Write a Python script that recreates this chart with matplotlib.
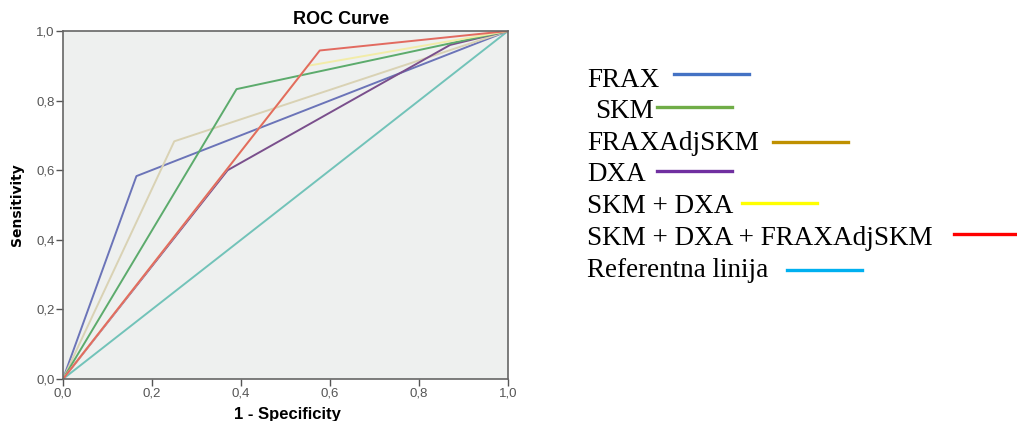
import matplotlib
matplotlib.use("Agg")
import matplotlib.pyplot as plt
from matplotlib.lines import Line2D

W, H = 1017, 421

# ---- data ----
series_names = ["FRAX", "SKM", "FRAXAdjSKM", "DXA", "SKM + DXA",
                "SKM + DXA + FRAXAdjSKM", "Referentna linija"]
frax_x = [0.0, 0.165, 1.0]
frax_y = [0.0, 0.583, 1.0]
skm_x = [0.0, 0.39, 1.0]
skm_y = [0.0, 0.833, 1.0]
fraxadj_x = [0.0, 0.25, 1.0]
fraxadj_y = [0.0, 0.683, 1.0]
dxa_x = [0.0, 0.37, 0.87, 1.0]
dxa_y = [0.0, 0.60, 0.96, 1.0]
skmdxa_x = [0.0, 0.55, 1.0]
skmdxa_y = [0.0, 0.90, 1.0]
all_x = [0.0, 0.577, 1.0]
all_y = [0.0, 0.944, 1.0]
ref_x = [0.0, 1.0]
ref_y = [0.0, 1.0]
ticks = [0.0, 0.2, 0.4, 0.6, 0.8, 1.0]
tick_labels = ["0,0", "0,2", "0,4", "0,6", "0,8", "1,0"]

plot_colors = ["#6b74b8", "#5cab6c", "#d9d2b4", "#7a4f8c", "#f2eca8", "#e26a60", "#72c3b9"]
legend_colors = ["#4472c4", "#70ad47", "#bf9000", "#7030a0", "#ffff00", "#ff0000", "#00b0f0"]

fig = plt.figure(figsize=(W / 100, H / 100), dpi=100)
fig.patch.set_facecolor("white")
ax = fig.add_axes([63 / W, (H - 379) / H, 445 / W, 348 / H])
ax.set_facecolor("#eef0ef")

data = [(ref_x, ref_y, 6), (frax_x, frax_y, 0), (fraxadj_x, fraxadj_y, 2),
        (dxa_x, dxa_y, 3), (skm_x, skm_y, 1), (skmdxa_x, skmdxa_y, 4),
        (all_x, all_y, 5)]
for xs, ys, ci in data:
    ax.plot(xs, ys, color=plot_colors[ci], lw=1.4, solid_capstyle="round")

ax.set_xlim(0, 1)
ax.set_ylim(0, 1)
ax.set_xticks(ticks)
ax.set_yticks(ticks)
ax.set_xticklabels(tick_labels, fontsize=9.5, color="#555555", family="Liberation Sans")
ax.set_yticklabels(tick_labels, fontsize=9.5, color="#555555", family="Liberation Sans")
ax.tick_params(direction="out", length=5, width=1.0, color="#555555", pad=1)
for s in ax.spines.values():
    s.set_color("#666666")
    s.set_linewidth(1.2)

fig.text(287 / W, 1 - 414 / H, "1 - Specificity", fontsize=12, fontweight="bold",
         family="Liberation Sans", ha="center", va="center")
fig.text(17 / W, 1 - 205 / H, "Sensitivity", fontsize=10, fontweight="bold",
         family="Liberation Sans Narrow", rotation=90, ha="center", va="center")
fig.text(341 / W, 1 - 20 / H, "ROC Curve", fontsize=13, fontweight="bold",
         family="Liberation Sans", ha="center", va="center")

# ---- legend (text + coloured keys) ----
text_x = [587, 595, 587, 587, 587, 587, 587]
base_y = [87, 118, 150, 181, 213, 245, 277]
row_y = [74, 107, 142, 171, 203, 234, 270]
key_x = [(674, 749), (657, 732), (773, 848), (657, 732), (742, 817), (954, 1017), (787, 862)]
for name, tx, by, ry, (k0, k1), col in zip(series_names, text_x, base_y, row_y, key_x, legend_colors):
    fig.text(tx / W, 1 - by / H, name, fontsize=19.5, family="Liberation Serif",
             ha="left", va="baseline")
    fig.add_artist(Line2D([k0 / W, k1 / W], [1 - ry / H, 1 - ry / H], color=col, lw=2.4,
                          transform=fig.transFigure))

fig.savefig("out.png", dpi=100)
